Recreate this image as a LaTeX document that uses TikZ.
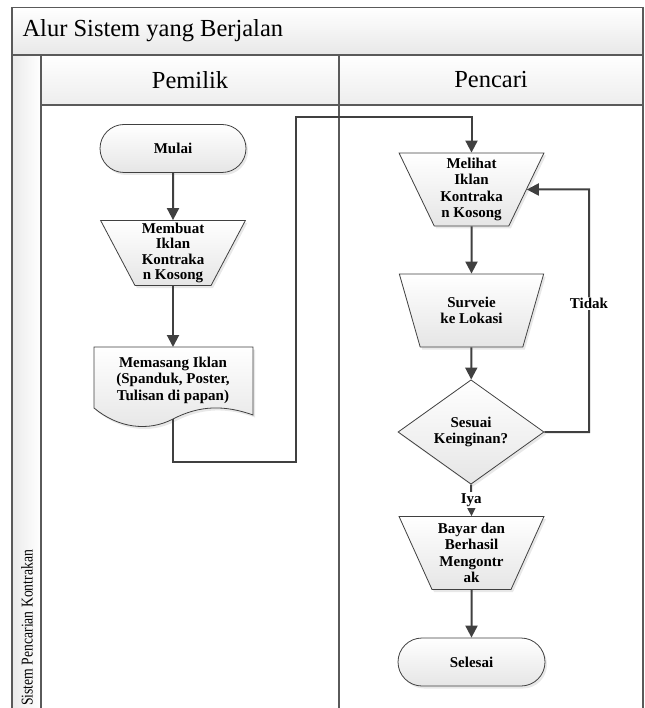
\documentclass[tikz,border=0pt]{standalone}
\usepackage{fontspec}
\setmainfont{Liberation Serif}
\usetikzlibrary{arrows.meta,shapes.geometric,shapes.misc,shadows,calc}

\definecolor{lineclr}{HTML}{404040}
\definecolor{frameclr}{HTML}{5A5A5A}

\tikzset{
  nodefont/.style={font=\bfseries\fontsize{15}{16.5}\selectfont},
  shapebox/.style={draw=lineclr, line width=0.8pt, top color=white, bottom color=gray!20,
    drop shadow={shadow xshift=2pt, shadow yshift=-2.5pt, opacity=0.3, fill=gray!60},
    nodefont, align=center, inner sep=0pt},
  terminal/.style={shapebox, rounded rectangle, minimum width=146pt, minimum height=48pt},
  manual/.style={shapebox, trapezium, shape border rotate=180, trapezium stretches=true,
    trapezium angle=65, minimum width=145pt, minimum height=73pt},
  decision/.style={shapebox, diamond, minimum width=146pt, minimum height=72pt},
  flow/.style={draw=lineclr, line width=2pt, -{Triangle[length=12pt,width=12pt]}},
  frameline/.style={draw=frameclr, line width=1.3pt},
  edgelabel/.style={fill=white, nodefont, inner sep=1.5pt},
  headfont/.style={font=\fontsize{24.5}{28}\selectfont},
}

\begin{document}
\begin{tikzpicture}[x=1pt, y=-1pt]
\useasboundingbox (0,0) rectangle (644,708);

% pool and lane headers
\path[top color=white, bottom color=gray!18] (12,7.5) rectangle (643,55);
\path[top color=white, bottom color=gray!14] (41,55) rectangle (643,105);
\path[left color=gray!16, right color=white] (12,55) rectangle (41,712);
\draw[frameline] (12,712) -- (12,7.5) -- (643,7.5) -- (643,712);
\draw[frameline] (12,55) -- (643,55);
\draw[frameline] (41,105) -- (643,105);
\draw[frameline] (41,55) -- (41,712);
\draw[frameline] (339,55) -- (339,712);

\node[headfont, anchor=west] (title) at (19,31) {Alur Sistem yang Berjalan};
\node[headfont] (pemilik) at (190,80) {Pemilik};
\node[headfont] (pencari) at (491,80) {Pencari};
\node[rotate=90, font=\fontsize{16.5}{18}\selectfont] (pool) at (27,628)
  {\scalebox{0.83}[1]{Sistem Pencarian Kontrakan}};

% owner lane
\node[terminal] (mulai) at (173,148.5) {Mulai};
\node[manual, minimum height=65pt, font=\bfseries\fontsize{15}{15.6}\selectfont] (membuat) at (173,253)
  {Membuat\\Iklan\\Kontraka\\n Kosong};
\path[shapebox] (94,347) -- (253,347) -- (253,415)
  .. controls (225,405) and (200,405) .. (173,419)
  .. controls (148,432) and (118,428) .. (94,408) -- cycle;
\node[nodefont, align=center, inner sep=0pt] (pasang) at (173,380) {Memasang Iklan\\(Spanduk, Poster,\\Tulisan di papan)};
\coordinate (doctop) at (173,347);
\coordinate (docend) at (173,419);
\coordinate (bendA) at (296,462);
\coordinate (bendB) at (296,117);

% seeker lane
\node[manual] (melihat) at (471.5,189.5) {Melihat\\Iklan\\Kontraka\\n Kosong};
\node[manual] (survei) at (471.5,310.5) {Surveie\\ke Lokasi};
\node[decision] (sesuai) at (471,432) {Sesuai\\Keinginan?};
\node[manual] (bayar) at (471.5,553) {Bayar dan\\Berhasil\\Mengontr\\ak};
\node[terminal, minimum width=147pt] (selesai) at (471.5,662) {Selesai};
\coordinate (loopA) at (589,432);
\coordinate (loopB) at (589,189.5);

% connectors
\draw[flow] (mulai) -- (membuat);
\draw[flow] (membuat) -- (doctop);
\draw[flow] (docend) |- (bendA) -- (bendB) -| (melihat.north);
\draw[flow] (melihat) -- (survei);
\draw[flow] (survei) -- (sesuai);
\draw[flow] (sesuai.east) -- (loopA) -- node[edgelabel, pos=0.53] (tidak) {Tidak} (loopB) -- (melihat.east);
\draw[flow] (sesuai.south) -- node[edgelabel, pos=0.5] (iya) {Iya} (bayar.north);
\draw[flow] (bayar) -- (selesai);
\end{tikzpicture}
\end{document}
